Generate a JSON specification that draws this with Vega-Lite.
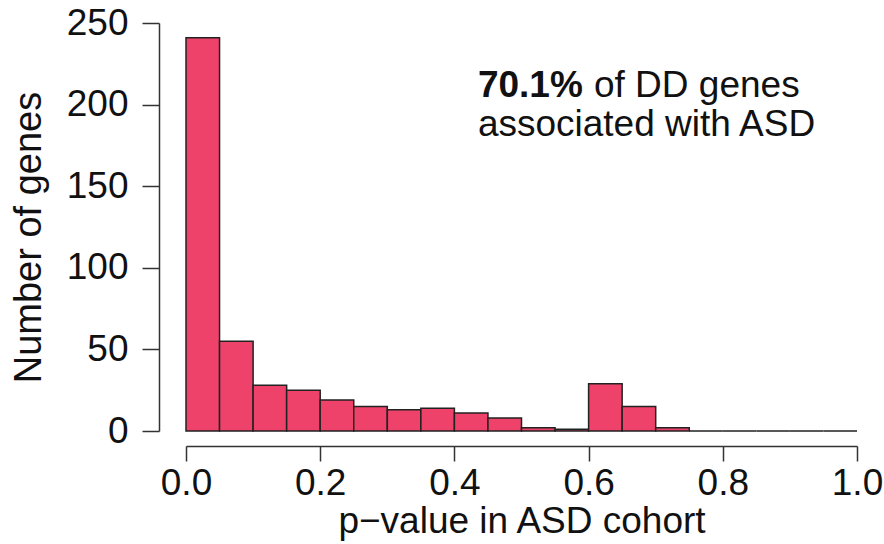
{
  "$schema": "https://vega.github.io/schema/vega-lite/v6.json",
  "width": 671,
  "height": 408,
  "autosize": {"type": "none"},
  "padding": {"left": 186, "top": 23, "right": 27, "bottom": 113},
  "background": "white",
  "config": {
    "view": {"stroke": null},
    "font": "Liberation Sans",
    "axis": {"grid": false, "domainColor": "#333", "tickColor": "#333", "domainWidth": 1.5, "tickWidth": 1.5, "labelColor": "#111", "titleColor": "#111", "labelFont": "Liberation Sans", "titleFont": "Liberation Sans", "labelFontSize": 37, "titleFontSize": 38, "titleFontWeight": "normal"}
  },
  "layer": [
    {
      "data": {"values": [
        {"bin_start": 0.00, "bin_end": 0.05, "count": 241},
        {"bin_start": 0.05, "bin_end": 0.10, "count": 55},
        {"bin_start": 0.10, "bin_end": 0.15, "count": 28},
        {"bin_start": 0.15, "bin_end": 0.20, "count": 25},
        {"bin_start": 0.20, "bin_end": 0.25, "count": 19},
        {"bin_start": 0.25, "bin_end": 0.30, "count": 15},
        {"bin_start": 0.30, "bin_end": 0.35, "count": 13},
        {"bin_start": 0.35, "bin_end": 0.40, "count": 14},
        {"bin_start": 0.40, "bin_end": 0.45, "count": 11},
        {"bin_start": 0.45, "bin_end": 0.50, "count": 8},
        {"bin_start": 0.50, "bin_end": 0.55, "count": 2},
        {"bin_start": 0.55, "bin_end": 0.60, "count": 1},
        {"bin_start": 0.60, "bin_end": 0.65, "count": 29},
        {"bin_start": 0.65, "bin_end": 0.70, "count": 15},
        {"bin_start": 0.70, "bin_end": 0.75, "count": 2},
        {"bin_start": 0.75, "bin_end": 0.80, "count": 0},
        {"bin_start": 0.80, "bin_end": 0.85, "count": 0},
        {"bin_start": 0.85, "bin_end": 0.90, "count": 0},
        {"bin_start": 0.90, "bin_end": 0.95, "count": 0},
        {"bin_start": 0.95, "bin_end": 1.00, "count": 0}
      ]},
      "mark": {"type": "rect", "fill": "#EE426A", "stroke": "#222222", "strokeWidth": 1.5},
      "encoding": {
        "x": {"field": "bin_start", "type": "quantitative", "scale": {"domain": [0, 1], "nice": false, "zero": false},
          "axis": {"values": [0, 0.2, 0.4, 0.6, 0.8, 1.0], "format": ".1f", "offset": 15, "tickSize": 15, "labelPadding": 4, "title": "p−value in ASD cohort", "titlePadding": 2, "titleFontSize": 37, "labelFlush": false}},
        "x2": {"field": "bin_end"},
        "y": {"field": "count", "type": "quantitative", "scale": {"domain": [0, 250], "nice": false},
          "axis": {"values": [0, 50, 100, 150, 200, 250], "format": "d", "offset": 27, "tickSize": 17, "labelPadding": 14, "title": "Number of genes", "titlePadding": 18, "titleY": 214, "labelFlush": false}},
        "y2": {"datum": 0}
      }
    },
    {
      "data": {"values": [
        {"x": 0.435, "y": 204.5, "label": "70.1%"}
      ]},
      "mark": {"type": "text", "align": "left", "baseline": "alphabetic", "fontSize": 37, "fontWeight": "bold", "font": "Liberation Sans", "color": "#111"},
      "encoding": {
        "x": {"field": "x", "type": "quantitative"},
        "y": {"field": "y", "type": "quantitative"},
        "text": {"field": "label"}
      }
    },
    {
      "data": {"values": [
        {"x": 0.608, "y": 204.5, "label": "of DD genes"},
        {"x": 0.435, "y": 181.0, "label": "associated with ASD"}
      ]},
      "mark": {"type": "text", "align": "left", "baseline": "alphabetic", "fontSize": 37, "font": "Liberation Sans", "color": "#111"},
      "encoding": {
        "x": {"field": "x", "type": "quantitative"},
        "y": {"field": "y", "type": "quantitative"},
        "text": {"field": "label"}
      }
    }
  ]
}
